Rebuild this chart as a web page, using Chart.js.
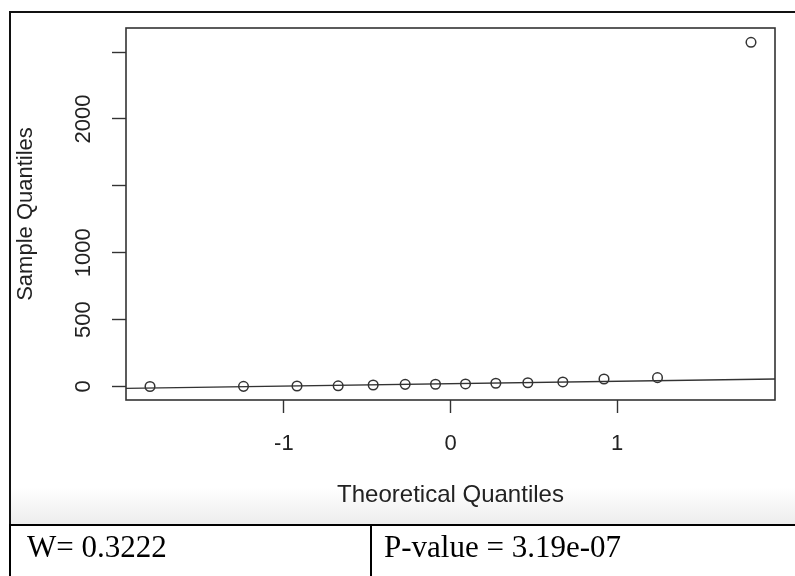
<!DOCTYPE html>
<html>
<head>
<meta charset="utf-8">
<script src="https://cdn.jsdelivr.net/npm/chart.js@4"></script>
<style>
  body { margin: 0; width: 795px; height: 576px; overflow: hidden; position: relative; background: #fff; }
  #frame { position: absolute; left: 9px; top: 11px; width: 820px; height: 513px;
    border-left: 2px solid #111; border-top: 2px solid #111;
    background: linear-gradient(to bottom, #fff 0, #fff 475px, #ececec 513px); }
  #wrap { position: absolute; left: 0; top: 0; width: 795px; height: 525px; }
  #stats { position: absolute; left: 9px; top: 524px; width: 900px; height: 80px;
    border-top: 2px solid #000; border-left: 2px solid #000;
    font-family: "Liberation Serif", "Times New Roman", serif; font-size: 31px; line-height: 31px; color: #000; }
  #stats .cell { position: absolute; top: 0; height: 100%; padding-top: 5px; box-sizing: border-box; white-space: nowrap; }
  #stats .w { left: 0; width: 361px; padding-left: 16px; border-right: 2px solid #000; }
  #stats .p { left: 361px; width: 500px; padding-left: 12px; }
</style>
</head>
<body>
<div id="frame"></div>
<div id="wrap"><canvas id="qq" width="795" height="525"></canvas></div>
<div id="stats"><div class="cell w">W= 0.3222</div><div class="cell p">P-value = 3.19e-07</div></div>
<script>
// normal Q-Q plot
const theoretical = [-1.803, -1.242, -0.921, -0.674, -0.464, -0.272, -0.090, 0.090, 0.272, 0.464, 0.674, 0.921, 1.242, 1.803];
const sample = [0, 1, 4, 5, 11, 16, 17, 19, 24, 28, 34, 56, 66, 2573];
const lineX = [-1.947, 1.947];
const lineY = [-14, 56];
const xTicks = [-1, 0, 1];
const yTicks = [0, 500, 1000, 1500, 2000, 2500];
const yLabels = ["0", "500", "1000", "", "2000", ""];

const ink = "#333";
const sans = "'Liberation Sans', Arial, sans-serif";

const boxPlugin = {
  id: "box",
  afterDraw(chart) {
    const a = chart.chartArea;
    const c = chart.ctx;
    c.save();
    c.strokeStyle = ink;
    c.lineWidth = 1.6;
    c.strokeRect(a.left, a.top, a.right - a.left, a.bottom - a.top);
    c.restore();
  },
};

let chart1 = document.getElementById("qq");
let config1 = {
  type: "scatter",
  data: {
    datasets: [
      {
        data: theoretical.map((x, i) => ({ x: x, y: sample[i] })),
        pointStyle: "circle",
        pointRadius: 4.8,
        borderWidth: 1.5,
        borderColor: ink,
        backgroundColor: "rgba(0,0,0,0)",
      },
      {
        data: lineX.map((x, i) => ({ x: x, y: lineY[i] })),
        showLine: true,
        pointRadius: 0,
        borderWidth: 1.4,
        borderColor: ink,
      },
    ],
  },
  options: {
    responsive: false,
    animation: false,
    layout: { padding: { left: 0, right: 20, top: 28, bottom: 0 } },
    scales: {
      x: {
        type: "linear",
        min: -1.947,
        max: 1.947,
        border: { display: false },
        grid: { drawOnChartArea: false, drawTicks: true, tickLength: 13, tickColor: ink, tickWidth: 1.4 },
        afterBuildTicks: (s) => { s.ticks = xTicks.map((v) => ({ value: v })); },
        afterFit: (s) => { s.height = 125; },
        ticks: { color: "#222", padding: 18, maxRotation: 0, font: { family: sans, size: 22 } },
        title: { display: true, text: "Theoretical Quantiles", color: "#222",
          font: { family: sans, size: 24 }, padding: { top: 0, bottom: 15 } },
      },
      y: {
        type: "linear",
        min: -101,
        max: 2680,
        border: { display: false },
        grid: { drawOnChartArea: false, drawTicks: true, tickLength: 14, tickColor: ink, tickWidth: 1.4 },
        afterBuildTicks: (s) => { s.ticks = yTicks.map((v) => ({ value: v })); },
        afterFit: (s) => { s.width = 126; },
        ticks: {
          color: "#222",
          minRotation: 90,
          maxRotation: 90,
          crossAlign: "center",
          padding: 4,
          font: { family: sans, size: 22 },
          callback: (v, i) => yLabels[i],
        },
        title: { display: true, text: "Sample Quantiles", color: "#222",
          font: { family: sans, size: 22 }, padding: { top: 13, bottom: 0 } },
      },
    },
    plugins: {
      legend: { display: false },
      tooltip: { enabled: false },
    },
  },
  plugins: [boxPlugin],
};

let qqChart = new Chart(chart1, config1);
</script>
</body>
</html>
